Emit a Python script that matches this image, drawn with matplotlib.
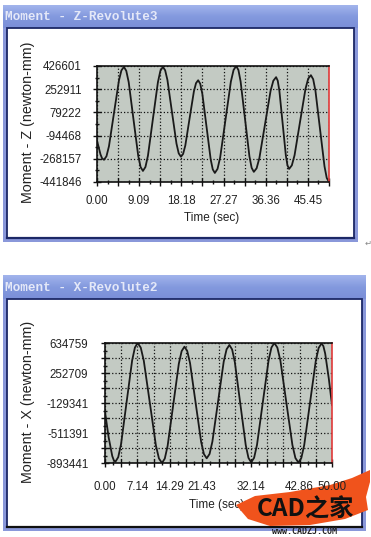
import numpy as np
import matplotlib
matplotlib.use('Agg')
import matplotlib.pyplot as plt
from matplotlib.patches import Rectangle, Polygon
from matplotlib.colors import LinearSegmentedColormap

# ---- data ----
# Moment - Z-Revolute3
z_time = [0.0, 0.75, 1.1, 1.5, 2.04, 2.58, 3.65, 4.73, 5.26, 5.8, 6.31, 6.83, 7.85, 8.88,
          9.39, 9.9, 10.44, 10.98, 12.05, 13.13, 13.66, 14.2, 14.69, 15.18, 16.15, 17.13,
          17.61, 18.1, 18.56, 19.03, 19.95, 20.88, 21.34, 21.8, 22.25, 22.7, 23.6, 24.5,
          24.95, 25.4, 25.98, 26.55, 27.7, 28.85, 29.43, 30.0, 30.48, 30.95, 31.9, 32.85,
          33.33, 33.8, 34.4, 35.0, 36.2, 37.4, 38.0, 38.6, 38.95, 39.3, 40.0, 40.7, 41.05,
          41.4, 41.99, 42.58, 43.75, 44.93, 45.51, 46.1, 46.59, 47.08, 48.05, 49.03, 49.51,
          50.0]
z_moment = [-132000, -235000, -265000, -275700, -249250, -173800, 72150, 318100, 393550,
            420000, 390400, 305900, 30500, -244900, -329400, -359000, -329400, -244900, 30500,
            305900, 390400, 420000, 394400, 321400, 83500, -154400, -227400, -253000, -231200,
            -169100, 33500, 236100, 298200, 320000, 293600, 218300, -27000, -272300, -347600,
            -374000, -343600, -256700, 26300, 309300, 396200, 426601, 396500, 310500, 30300,
            -249900, -335900, -366000, -339100, -262100, -11500, 239100, 316100, 343000,
            316900, 242400, -500, -243400, -317900, -344000, -317300, -241200, 7000, 255200,
            331300, 358000, 327600, 240800, -41900, -324600, -411400, -441846]
z_yticks = [426601, 252911, 79222, -94468, -268157, -441846]
z_xticklabels = ['0.00', '9.09', '18.18', '27.27', '36.36', '45.45']

# Moment - X-Revolute2
x_time = [0.0, 0.8, 1.6, 1.95, 2.3, 2.91, 3.53, 4.75, 5.98, 6.59, 7.2, 7.87, 8.54, 9.88,
          11.21, 11.88, 12.55, 13.17, 13.79, 15.03, 16.26, 16.88, 17.5, 18.11, 18.73, 19.95,
          21.18, 21.79, 22.4, 23.03, 23.65, 24.9, 26.15, 26.78, 27.4, 28.0, 28.6, 29.8, 31.0,
          31.6, 32.2, 32.84, 33.48, 34.75, 36.03, 36.66, 37.3, 37.96, 38.63, 39.95, 41.28,
          41.94, 42.6, 43.24, 43.88, 45.15, 46.43, 47.06, 47.7, 48.1, 48.5, 49.3, 50.0]
x_moment = [-240100, -566000, -805000, -860000, -876900, -819500, -655400, -121100, 413300,
            577300, 634759, 576700, 410900, -129300, -669600, -835300, -893441, -837100,
            -676500, -152900, 370600, 531300, 587600, 533600, 379400, -123000, -625400,
            -779600, -833600, -778800, -622200, -112200, 397900, 554500, 609300, 552500,
            390400, -137900, -666100, -828300, -885000, -827200, -662400, -125100, 412100,
            577000, 634759, 576900, 411700, -126600, -664900, -830100, -888000, -830300,
            -665600, -129000, 407600, 572300, 630000, 595000, 500000, 180000, -154800]
x_yticks = [634759, 252709, -129341, -511391, -893441]
x_xticklabels = ['0.00', '7.14', '14.29', '21.43', '32.14', '42.86', '50.00']
x_label_idx = [0, 2, 4, 6, 9, 12, 14]

W, H = 371, 537
fig = plt.figure(figsize=(W/100, H/100), dpi=100)
fig.patch.set_facecolor('white')

# background axes in pixel coordinates for the window frames
bg = fig.add_axes([0, 0, 1, 1])
bg.set_xlim(0, W)
bg.set_ylim(H, 0)
bg.axis('off')

grad = np.linspace(0, 1, 50).reshape(-1, 1)
bar_cmap = LinearSegmentedColormap.from_list('bar', ['#a2b4ec', '#8399de', '#7b8fd8'])

def window(x0, y0, x1, y1, title_h, title, bottom_col):
    bg.add_patch(Rectangle((x0, y0), x1-x0, y1-y0, facecolor='#8a98da', edgecolor='none', zorder=1))
    bg.imshow(grad, extent=(x0, x1, y0+title_h, y0), aspect='auto', cmap=bar_cmap, zorder=2)
    bg.add_patch(Rectangle((x0+4, y0+title_h), (x1-x0)-8, (y1-y0)-title_h-4,
                           facecolor='white', edgecolor='#1c2866', lw=1.3, zorder=3))
    bg.plot([x0+4, x1-4], [y1-4, y1-4], color=bottom_col, lw=1.6, zorder=4)
    bg.text(x0+2, y0+title_h/2+1, title, family='Liberation Mono', weight='bold',
            fontsize=9.2, color='#e4e8f8', va='center', ha='left', zorder=5)

window(3, 5, 358, 242, 23, 'Moment - Z-Revolute3', '#1c2866')
window(3, 275, 366, 531, 24, 'Moment - X-Revolute2', '#101010')
bg.set_xlim(0, W)
bg.set_ylim(H, 0)

bg.text(368, 243, '\u21b5', fontsize=6, color='#888888', ha='center', va='center')

def pax(l, t, r, b):
    return fig.add_axes([l/W, 1-b/H, (r-l)/W, (b-t)/H])

def style(ax, xpad, ypad):
    ax.set_facecolor('#c3cac3')
    for s in ['left', 'bottom', 'top']:
        ax.spines[s].set_color('#111111')
        ax.spines[s].set_linewidth(1.2)
    ax.spines['right'].set_color('#e03a3a')
    ax.spines['right'].set_linewidth(1.2)
    ax.grid(True, which='major', color='#111111', linestyle=':', linewidth=0.9)
    ax.tick_params(which='major', direction='inout', length=6, width=1, color='#111111')
    ax.tick_params(which='minor', direction='inout', length=3, width=1, color='#111111')
    ax.tick_params(axis='x', which='major', pad=xpad)
    ax.tick_params(axis='y', which='major', pad=ypad)
    for lab in ax.get_xticklabels() + ax.get_yticklabels():
        lab.set_fontfamily('Liberation Sans')
        lab.set_fontsize(8.3)
        lab.set_color('#222222')

# ---- top chart ----
ax1 = pax(97, 66, 329, 182)
ax1.plot(z_time, z_moment, color='#1a1a1a', lw=1.3, solid_joinstyle='round')
ax1.set_xlim(0, 50)
ax1.set_ylim(z_yticks[-1], z_yticks[0])
xt = [50/11*k for k in range(12)]
ax1.set_xticks(xt)
ax1.set_xticklabels([z_xticklabels[k//2] if k % 2 == 0 else '' for k in range(12)])
ax1.set_xticks([50/22*(2*k+1) for k in range(11)], minor=True)
ax1.set_yticks(z_yticks)
ax1.set_yticklabels([str(v) for v in z_yticks])
ystep = z_yticks[0]-z_yticks[1]
ax1.set_yticks([z_yticks[-1]+ystep*(k+0.5) for k in range(5)], minor=True)
style(ax1, 6, 8)
bg.text(212, 218, 'Time (sec)', family='Liberation Sans', fontsize=8.5, color='#222222',
        ha='center', va='center')
bg.text(28, 122, 'Moment - Z (newton-mm)', family='Liberation Sans', fontsize=10.3,
        color='#222222', ha='center', va='center', rotation=90)

# ---- bottom chart ----
ax2 = pax(105, 343, 332, 463)
ax2.plot(x_time, x_moment, color='#1a1a1a', lw=1.3, solid_joinstyle='round')
ax2.set_xlim(0, 50)
ax2.set_ylim(x_yticks[-1], x_yticks[0])
xt2 = [50/14*k for k in range(15)]
ax2.set_xticks(xt2)
lab2 = ['' for k in range(15)]
for i, k in enumerate(x_label_idx):
    lab2[k] = x_xticklabels[i]
ax2.set_xticklabels(lab2)
ax2.set_xticks([50/28*(2*k+1) for k in range(14)], minor=True)
ystep2 = (x_yticks[0]-x_yticks[1])/2
yt2 = [x_yticks[-1]+ystep2*k for k in range(9)]
ax2.set_yticks(yt2)
ax2.set_yticklabels([str(x_yticks[::-1][k//2]) if k % 2 == 0 else '' for k in range(9)])
ax2.set_yticks([x_yticks[-1]+ystep2*(k+0.5) for k in range(8)], minor=True)
style(ax2, 10, 9)
bg.text(217, 505, 'Time (sec)', family='Liberation Sans', fontsize=8.5, color='#222222',
        ha='center', va='center')
bg.text(28, 402, 'Moment - X (newton-mm)', family='Liberation Sans', fontsize=10.3,
        color='#222222', ha='center', va='center', rotation=90)

# ---- watermark ----
brush = [(236, 505), (255, 496), (290, 492), (330, 485), (352, 478), (370, 470), (370, 482),
         (366, 497), (368, 510), (345, 519), (310, 525), (270, 526), (248, 519)]
bg.add_patch(Polygon(brush, closed=True, facecolor='#f0531c', edgecolor='none', zorder=6))
bg.text(305, 510, 'CAD之家', family=['Noto Sans CJK SC', 'DejaVu Sans'], weight='bold',
        fontsize=17.5, color='#111111', ha='center', va='center', zorder=7)
bg.text(304, 531, 'www.CADZJ.COM', family='DejaVu Sans Mono', weight='bold', fontsize=6,
        color='#222222', ha='center', va='center', zorder=7)

fig.savefig('out.png', dpi=100)
